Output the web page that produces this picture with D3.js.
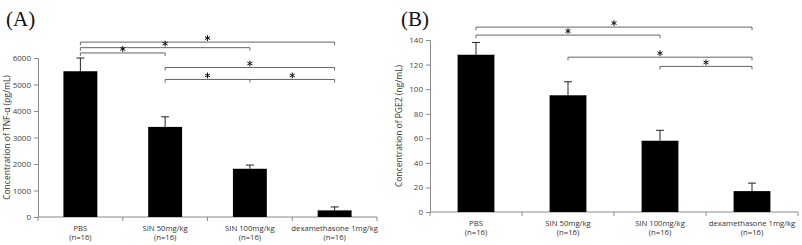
<!DOCTYPE html>
<html>
<head>
<meta charset="utf-8">
<script src="https://cdn.jsdelivr.net/npm/d3@7"></script>
<style>
	body { margin: 0; background: #fff; }
	svg { display: block; }
	.tick text { font-family: "Open Sans", "Noto Sans", sans-serif; fill: #444; }
</style>
</head>
<body>
<svg id="chart" width="802" height="245"></svg>
<script>
// groups shared by both panels
const categories = ["PBS", "SIN 50mg/kg", "SIN 100mg/kg", "dexamethasone 1mg/kg"];
const groupSize = ["(n=16)", "(n=16)", "(n=16)", "(n=16)"];

// (A) TNF-alpha, pg/mL
const tnfMean = [5500, 3400, 1820, 250];
const tnfErr = [500, 380, 140, 130];
const tnfTicks = [0, 1000, 2000, 3000, 4000, 5000, 6000];
// significance brackets: from group, to group, height in data units, star segments
const tnfSig = [
	{ from: 0, to: 3, level: 6600, stars: [[0, 3]] },
	{ from: 0, to: 2, level: 6390, stars: [[0, 2]] },
	{ from: 0, to: 1, level: 6190, stars: [[0, 1]] },
	{ from: 1, to: 3, level: 5640, stars: [[1, 3]] },
	{ from: 1, to: 3, level: 5190, stars: [[1, 2], [2, 3]], mid: 2 }
];

// (B) PGE2, ng/mL
const pgeMean = [128, 95, 58, 17];
const pgeErr = [10, 11, 8.5, 6.5];
const pgeTicks = [0, 20, 40, 60, 80, 100, 120, 140];
const pgeSig = [
	{ from: 0, to: 3, level: 150.5, stars: [[0, 3]] },
	{ from: 0, to: 2, level: 144, stars: [[0, 2]] },
	{ from: 1, to: 3, level: 126, stars: [[1, 3]] },
	{ from: 2, to: 3, level: 118.5, stars: [[2, 3]] }
];

const svg = d3.select("#chart");
const star = d3.symbol(d3.symbolAsterisk, 24);

function drawPanel(opt) {
	let g = svg.append("g");

	let x = d3.scaleBand()
		.domain(d3.range(categories.length))
		.range([opt.left, opt.right])
		.paddingInner(0.6)
		.paddingOuter(0.3);
	let step = x.step();
	let cx = i => x(i) + x.bandwidth() / 2;

	let y = d3.scaleLinear()
		.domain([0, opt.max])
		.range([opt.bottom, opt.top]);

	// y axis
	let yAxis = d3.axisLeft(y)
		.tickValues(opt.ticks)
		.tickFormat(d3.format("d"))
		.tickSize(4)
		.tickPadding(3);
	let ya = g.append("g")
		.attr("transform", "translate(" + opt.left + ",0)")
		.call(yAxis);
	ya.select(".domain").attr("stroke", "#8a8a8a");
	ya.selectAll(".tick line").attr("stroke", "#8a8a8a");
	ya.selectAll(".tick text").attr("font-size", "8px");

	// x axis baseline + category separators
	g.append("line")
		.attr("x1", opt.left).attr("x2", opt.right)
		.attr("y1", opt.bottom).attr("y2", opt.bottom)
		.attr("stroke", "#8a8a8a");
	g.selectAll(".sep")
		.data(d3.range(categories.length + 1))
		.enter()
		.append("line")
		.attr("x1", i => opt.left + i * step)
		.attr("x2", i => opt.left + i * step)
		.attr("y1", opt.bottom)
		.attr("y2", opt.bottom + 4)
		.attr("stroke", "#8a8a8a");

	// category labels
	let lab = g.selectAll(".cat")
		.data(categories)
		.enter()
		.append("text")
		.attr("text-anchor", "middle")
		.attr("font-family", "'Open Sans', 'Noto Sans', sans-serif")
		.attr("font-size", "7.7px")
		.attr("fill", "#333");
	lab.append("tspan")
		.attr("x", (d, i) => cx(i))
		.attr("y", opt.bottom + 14)
		.text(d => d);
	lab.append("tspan")
		.attr("x", (d, i) => cx(i))
		.attr("y", opt.bottom + 23)
		.text((d, i) => groupSize[i]);

	// bars
	g.selectAll(".bar")
		.data(opt.mean)
		.enter()
		.append("rect")
		.attr("x", (d, i) => x(i))
		.attr("y", d => y(d))
		.attr("width", x.bandwidth())
		.attr("height", d => opt.bottom - y(d))
		.attr("fill", "#000");

	// error bars (upper only)
	let eb = g.selectAll(".err")
		.data(opt.mean)
		.enter()
		.append("g")
		.attr("stroke", "#222")
		.attr("stroke-width", 1);
	eb.append("line")
		.attr("x1", (d, i) => cx(i)).attr("x2", (d, i) => cx(i))
		.attr("y1", d => y(d))
		.attr("y2", (d, i) => y(d + opt.err[i]));
	eb.append("line")
		.attr("x1", (d, i) => cx(i) - 4).attr("x2", (d, i) => cx(i) + 4)
		.attr("y1", (d, i) => y(d + opt.err[i]))
		.attr("y2", (d, i) => y(d + opt.err[i]));

	// significance brackets
	let sig = g.selectAll(".sig")
		.data(opt.sig)
		.enter()
		.append("g");
	sig.append("path")
		.attr("fill", "none")
		.attr("stroke", "#666")
		.attr("stroke-width", 1)
		.attr("d", d => {
			let yy = y(d.level);
			let p = "M" + cx(d.from) + "," + (yy + 3) + "V" + yy + "H" + cx(d.to) + "V" + (yy + 3);
			if (d.mid !== undefined) p += "M" + cx(d.mid) + "," + yy + "V" + (yy + 3);
			return p;
		});
	sig.each(function(d) {
		d3.select(this).selectAll(".star")
			.data(d.stars)
			.enter()
			.append("path")
			.attr("d", star)
			.attr("transform", s => "translate(" + ((cx(s[0]) + cx(s[1])) / 2) + "," + (y(d.level) - 4) + ")")
			.attr("fill", "#111")
			.attr("stroke", "#111")
			.attr("stroke-width", 1);
	});

	// y title
	g.append("text")
		.attr("transform", "translate(" + opt.titleX + "," + ((opt.top + opt.bottom) / 2) + ") rotate(-90)")
		.attr("text-anchor", "middle")
		.attr("font-family", "'Open Sans', 'Noto Sans', sans-serif")
		.attr("font-size", "8.5px")
		.attr("fill", "#333")
		.text(opt.title);

	// panel letter
	g.append("text")
		.attr("x", opt.letterX)
		.attr("y", 26)
		.attr("font-family", "'Liberation Serif', 'DejaVu Serif', serif")
		.attr("font-size", "21px")
		.attr("fill", "#111")
		.text(opt.letter);
}

drawPanel({
	left: 38, right: 377, top: 58, bottom: 217, max: 6000,
	ticks: tnfTicks, mean: tnfMean, err: tnfErr, sig: tnfSig,
	title: "Concentration of TNF-α (pg/mL)", titleX: 10,
	letter: "(A)", letterX: 6
});

drawPanel({
	left: 430, right: 798, top: 40, bottom: 212, max: 140,
	ticks: pgeTicks, mean: pgeMean, err: pgeErr, sig: pgeSig,
	title: "Concentration of PGE2 (ng/mL)", titleX: 402,
	letter: "(B)", letterX: 401
});
</script>
</body>
</html>
